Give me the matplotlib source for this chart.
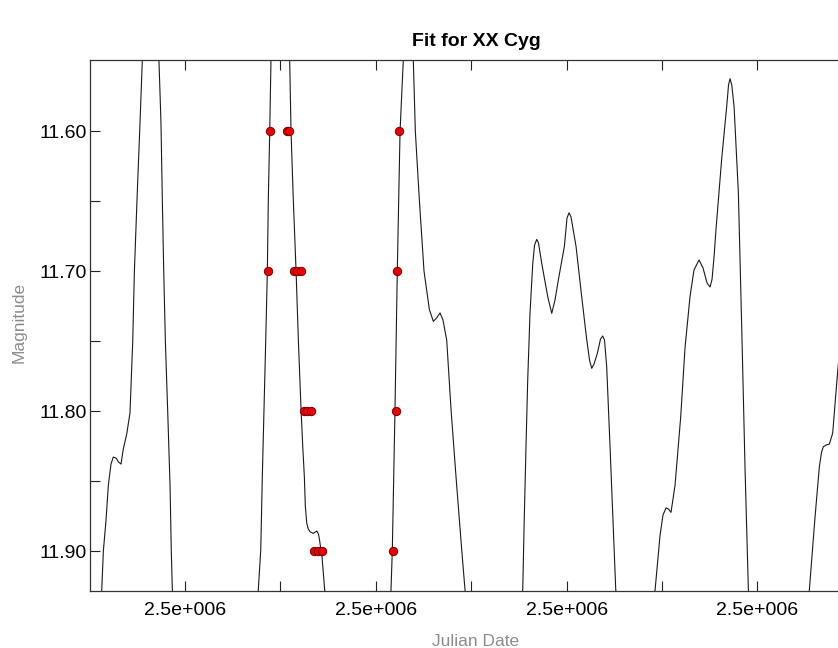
import matplotlib
matplotlib.use("Agg")
import matplotlib.pyplot as plt
from matplotlib.ticker import MultipleLocator, FixedLocator, FuncFormatter, FormatStrFormatter, NullFormatter
import numpy as np

JD0 = 2455033.4

curve_dt = [
    -0.0933, -0.0873, -0.0856, -0.0828, -0.0804, -0.0776, -0.0752, -0.0723, -0.0697, -0.0671,
    -0.0647, -0.0611, -0.0577, -0.0548, -0.0531, -0.0503, -0.0472, -0.0448, -0.0409, -0.0362,
    -0.0314, -0.0273, -0.0252, -0.0238, -0.0223, -0.0206, -0.0181, -0.0157, -0.0144, -0.0133,
    0.0, 0.0314, 0.0629,
    0.0768, 0.0794, 0.0810, 0.0828, 0.0846, 0.0863, 0.0873, 0.0888, 0.0901, 0.0938,
    0.1001, 0.1059, 0.1097, 0.1111, 0.1135, 0.1164, 0.1188, 0.1216, 0.1234, 0.1251,
    0.1261, 0.1276, 0.1292, 0.1310, 0.1345, 0.1381, 0.1399, 0.1410, 0.1420, 0.1433,
    0.1450, 0.1464, 0.1572, 0.1813, 0.2055,
    0.2159, 0.2173, 0.2201, 0.2225, 0.2254, 0.2288, 0.2311, 0.2341, 0.2369, 0.2393,
    0.2414, 0.2456, 0.2505, 0.2561, 0.2603, 0.2636, 0.2673, 0.2704, 0.2743, 0.2788,
    0.2841, 0.2900, 0.2935, 0.3040, 0.3239, 0.3438,
    0.3540, 0.3553, 0.3574, 0.3592, 0.3616, 0.3645, 0.3664, 0.3687, 0.3705, 0.3739,
    0.3802, 0.3844, 0.3878, 0.3913, 0.3976, 0.4004, 0.4025, 0.4046, 0.4099, 0.4158,
    0.4211, 0.4240, 0.4263, 0.4287, 0.4322, 0.4355, 0.4378, 0.4397, 0.4420, 0.4455,
    0.4490, 0.4515, 0.4612, 0.4727, 0.4843,
    0.4927, 0.4979, 0.5010, 0.5042, 0.5068, 0.5094, 0.5136, 0.5196, 0.5241, 0.5294,
    0.5335, 0.5388, 0.5430, 0.5472, 0.5503, 0.5524, 0.5545, 0.5566, 0.5626, 0.5678,
    0.5697, 0.5713, 0.5731, 0.5755, 0.5800, 0.5836, 0.5870, 0.5905, 0.6006, 0.6226,
    0.6447,
    0.6544, 0.6604, 0.6649, 0.6672, 0.6691, 0.6719, 0.6754, 0.6789, 0.6831, 0.6887,
    0.6971,
]
curve_mag = [
    11.9636, 11.9279, 11.9000, 11.8779, 11.8532, 11.8379, 11.8329, 11.8336, 11.8364, 11.8379,
    11.8271, 11.8164, 11.8014, 11.7500, 11.7007, 11.6486, 11.5943, 11.5500, 11.5171, 11.5064,
    11.5171, 11.5500, 11.5943, 11.6486, 11.7007, 11.7500, 11.8014, 11.8532, 11.9000, 11.9279,
    11.9921, 12.0279, 11.9921,
    11.9279, 11.8989, 11.8474, 11.7986, 11.7493, 11.7000, 11.6490, 11.6000, 11.5493, 11.5171,
    11.5064, 11.5171, 11.5493, 11.6000, 11.6490, 11.7000, 11.7493, 11.7986, 11.8255, 11.8471,
    11.8679, 11.8802, 11.8843, 11.8862, 11.8874, 11.8857, 11.8879, 11.8921, 11.8971, 11.9016,
    11.9157, 11.9279, 11.9707, 11.9921, 11.9707,
    11.9279, 11.8989, 11.7986, 11.7000, 11.6000, 11.5493, 11.5314, 11.5243, 11.5314, 11.5493,
    11.6000, 11.6490, 11.7000, 11.7274, 11.7360, 11.7336, 11.7299, 11.7350, 11.7493, 11.7986,
    11.8474, 11.8989, 11.9279, 11.9636, 11.9814, 11.9636,
    11.9279, 11.8850, 11.8255, 11.7779, 11.7302, 11.6945, 11.6814, 11.6774, 11.6800, 11.6945,
    11.7184, 11.7302, 11.7207, 11.7064, 11.6826, 11.6621, 11.6584, 11.6614, 11.6826, 11.7184,
    11.7493, 11.7636, 11.7695, 11.7664, 11.7588, 11.7486, 11.7464, 11.7493, 11.7684, 11.8255,
    11.8850, 11.9279, 11.9564, 11.9671, 11.9529,
    11.9279, 11.8889, 11.8743, 11.8692, 11.8700, 11.8724, 11.8532, 11.8039, 11.7547, 11.7178,
    11.6993, 11.6921, 11.6979, 11.7086, 11.7114, 11.7060, 11.6900, 11.6700, 11.6193, 11.5823,
    11.5671, 11.5626, 11.5671, 11.5823, 11.6439, 11.7424, 11.8409, 11.9279, 11.9779, 11.9993,
    11.9779,
    11.9279, 11.8755, 11.8398, 11.8293, 11.8255, 11.8243, 11.8236, 11.8157, 11.7800, 11.7350,
    11.6636,
]

obs_dt = [0.0891, 0.1066, 0.1094, 0.2243,
          0.0867, 0.1143, 0.1177, 0.1216, 0.2219,
          0.1245, 0.1281, 0.1316, 0.2209,
          0.1357, 0.1396, 0.1441, 0.2183]
obs_mag = [11.60, 11.60, 11.60, 11.60,
           11.70, 11.70, 11.70, 11.70, 11.70,
           11.80, 11.80, 11.80, 11.80,
           11.90, 11.90, 11.90, 11.90]

mag_minor = [11.65, 11.75, 11.85]

curve_jd = JD0 + np.array(curve_dt)
obs_jd = JD0 + np.array(obs_dt)

plt.rcParams['font.family'] = ['Liberation Sans', 'DejaVu Sans']


def jd_label(v, pos):
    # windows style exponent, e.g. 2.5e+006
    mant, ex = f"{v:.1e}".split('e')
    return f"{mant}e{ex[0]}{int(ex[1:]):03d}"


fig = plt.figure(figsize=(8.38, 6.48), dpi=100, facecolor='white')
# axes run past the right edge of the picture
ax = fig.add_axes([90 / 838, 57.5 / 648, 772 / 838, 531 / 648])

ax.plot(curve_jd, curve_mag, color='#1a1a1a', lw=0.8, zorder=2)
ax.plot(obs_jd, obs_mag, 'o', color='#ee0000', ms=6, mec='#7a0000', mew=0.7, zorder=3)

ax.set_xlim(JD0 - 0.0996, JD0 + 0.7096)
ax.set_ylim(11.9282, 11.5489)

ax.xaxis.set_major_locator(MultipleLocator(0.2))
ax.xaxis.set_minor_locator(MultipleLocator(0.1))
ax.xaxis.set_major_formatter(FuncFormatter(jd_label))
ax.xaxis.set_minor_formatter(NullFormatter())
ax.yaxis.set_major_locator(MultipleLocator(0.1))
ax.yaxis.set_minor_locator(FixedLocator(mag_minor))
ax.yaxis.set_major_formatter(FormatStrFormatter('%.2f'))

for which in ('major', 'minor'):
    ax.tick_params(axis='both', which=which, direction='in', length=7.2, width=0.8,
                   color='#222222', top=True, right=False)
ax.tick_params(axis='x', which='major', labelsize=14, pad=8)
ax.tick_params(axis='y', which='major', labelsize=14, pad=2.5)

for s in ax.spines.values():
    s.set_color('#333333')
    s.set_linewidth(0.9)

ax.set_title('Fit for XX Cyg', fontsize=14, fontweight='bold', pad=10)
fig.text(476 / 838, 2 / 648, 'Julian Date', ha='center', va='baseline',
         fontsize=12.5, color='#8c8c8c')
fig.text(19 / 838, 1 - 322 / 648, 'Magnitude', ha='center', va='center',
         rotation=90, fontsize=12.5, color='#8c8c8c')

fig.savefig('out.png', dpi=100, facecolor='white')
